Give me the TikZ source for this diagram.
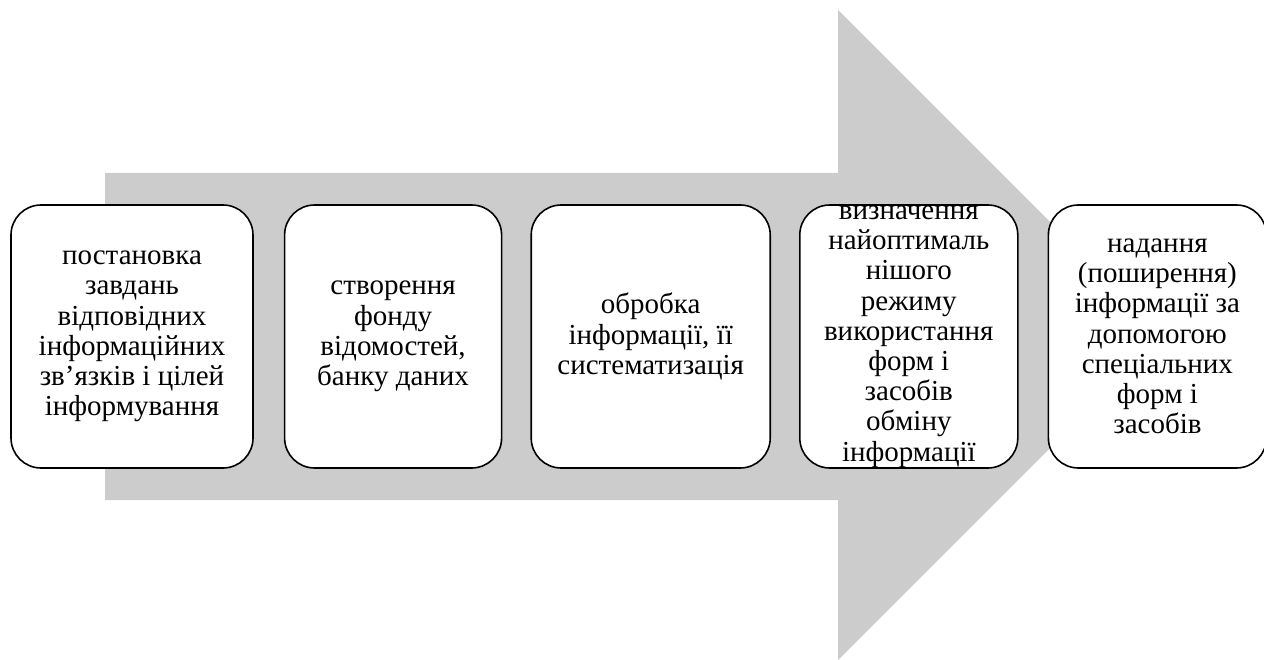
\documentclass[tikz,border=0pt]{standalone}
\usepackage{fontspec}
\setmainfont{Liberation Serif}
\usetikzlibrary{positioning}
\definecolor{arrowgray}{RGB}{204,204,204}
\tikzset{
  stagetext/.style={align=center, font=\fontsize{29}{30.2}\selectfont},
  stage/.style={stagetext, rectangle, rounded corners=30pt, minimum height=263pt, draw=black, line width=1.6pt, fill=white},
}
\begin{document}
\begin{tikzpicture}[x=1pt, y=-1pt, node distance=28pt]
\useasboundingbox (0,0) rectangle (1264,660);
% big arrow behind the stages
\fill[arrowgray] (105,173) -- (838,173) -- (838,10) -- (1163,335) -- (838,660) -- (838,500) -- (105,500) -- cycle;

\node (st1) [stage, minimum width=242pt] at (132,336.5) {постановка\\завдань\\відповідних\\інформаційних\\зв’язків і цілей\\інформування};
\node (st2) [stage, minimum width=217pt, right=30pt of st1] {створення\\фонду\\відомостей,\\банку даних};
\node (st3) [stage, minimum width=239pt, right=of st2] {обробка\\інформації, її\\систематизація};
\node (st4) [stage, minimum width=218pt, right=of st3] {};
\node [stagetext] at (st4) {визначення\\найоптималь\\нішого\\режиму\\використання\\форм і\\засобів\\обміну\\інформації};
\node (st5) [stage, minimum width=218pt, right=29pt of st4] {надання\\(поширення)\\інформації за\\допомогою\\спеціальних\\форм і\\засобів};

\end{tikzpicture}
\end{document}
